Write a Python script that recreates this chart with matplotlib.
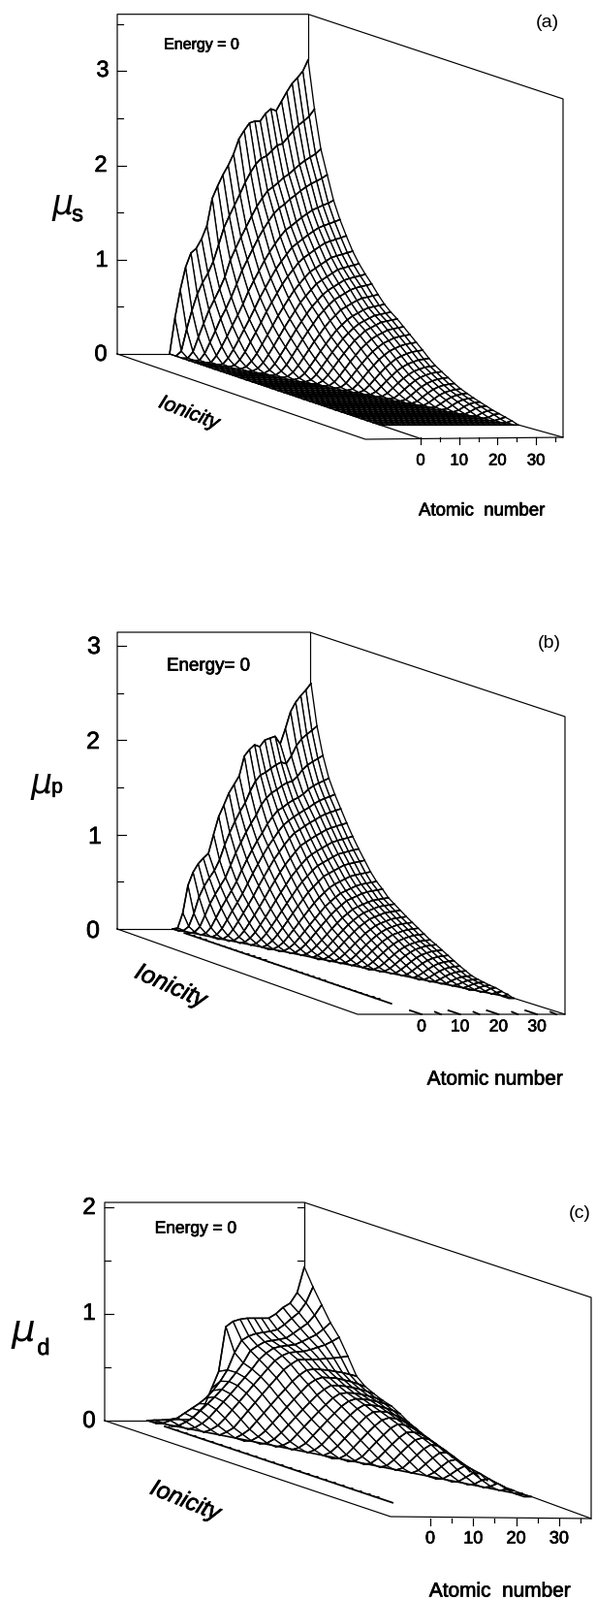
import numpy as np
import matplotlib
matplotlib.use("Agg")
import matplotlib.pyplot as plt
import matplotlib.patheffects as pe
from matplotlib.collections import PolyCollection, LineCollection

plt.rcParams['font.family'] = ['Liberation Sans', 'DejaVu Sans']

# values: mu along the back ridge (ionicity 0, one per
# atomic number line) and mu along the right edge (one per ionicity line)
ridge_s = [0, .38, .68, .92, 1.07, 1.12, 1.22, 1.36, 1.65, 1.78, 1.90, 2.0, 2.12, 2.28,
           2.37, 2.45, 2.47, 2.47, 2.55, 2.6, 2.58, 2.68, 2.78, 2.87, 2.93, 3.0, 3.12]
edge_s = [3.12, 2.62, 2.22, 1.97, 1.72, 1.54, 1.39, 1.25, 1.14, 1.05, .97, .88, .80, .74,
          .69, .63, .57, .51, .45, .385, .33, .29, .25, .21, .175, .15, .125, .105, .085,
          .065, .05, .035, .02, .01]
ridge_p = [0, .01, .17, .46, .6, .69, .75, .80, 1.0, 1.19, 1.31, 1.44, 1.53, 1.62, 1.83,
           1.9, 1.95, 1.93, 2.0, 2.02, 2.04, 1.96, 2.12, 2.3, 2.4, 2.47, 2.53, 2.6]
edge_p = [2.6, 2.17, 1.88, 1.66, 1.51, 1.38, 1.25, 1.13, 1.02, .92, .82, .74, .68, .61,
          .565, .52, .475, .435, .395, .355, .315, .285, .25, .215, .18, .145, .115, .085,
          .07, .06, .05, .045, .03, .02, .01]
ridge_d = [0, .005, .005, .01, .01, .01, .01, .07, .14, .3, .46, .88, .93, .95, .96, .96,
           .96, .96, 1.0, 1.06, 1.1, 1.2, 1.44]
edge_d = [1.44, 1.28, 1.14, 1.0, .89, .74, .58, .51, .47, .435, .41, .365, .31, .27, .225,
          .19, .15, .12, .085, .04, .02, .012, .008, .005, .003, .002, 0]
# panel (c) is a dome: mu at the top of each ionicity line, well above the right edge
mid_d = [.95, .83, .8, .78, .75, .71, .65, .6, .55, .51, .48, .45, .42, .385, .35, .31,
         .28, .24, .2, .16, .12, .09, .06, .04, .02, .01, 0]

# smooth shape of an ionicity line away from the ridge, as a fraction of its value on
# the right edge, at these fractions of the way along the line
row_u = [0, .05, .11, .2, .3, .45, .6, .8, 1]
shape_s = [0, .03, .1, .25, .42, .65, .82, .95, 1]
shape_p = [0, .03, .09, .23, .4, .64, .82, .95, 1]
# same for the dome, as a fraction of the top up to u=.6, then towards the edge value
rise_u = [0, .1, .2, .35, .5, .6]
rise_v = [0, .1, .3, .6, .88, 1]
fall_u = [.6, .75, .9, 1]
fall_v = [0, .12, .55, 1]

z_major = [0, 10, 20, 30]
z_minor = [5, 15, 25, 35]
z_last = 36

# where each panel sits on the page (pixels)
panels = [
    dict(ridge=ridge_s, edge=edge_s, shape=shape_s, mid=None, t_end=.84, full_floor=True, stubs=False,
         x0=175, y0=365, sz=3.97, su=97.2, ex=258, ey=87, left=121, right=318, top=14.7,
         front_left=(377, 453), corner=(581, 102, 451), front_x0=434, tick_style='down',
         ticks_y=[.5, 1, 1.5, 2, 2.5, 3, 3.5], long_y=[1, 2, 3], back_ticks=[],
         ylabels=[('3', 106, 73), ('2', 104, 171), ('1', 105, 269), ('0', 104, 366)], ysize=17,
         mu=(65, 211, 25), sub=('s', 80, 222, 17), energy=('Energy = 0', 208, 46, 11.5),
         tag=('(a)', 565, 24), ion=(195, 426, -21, 15), atom=('Atomic  number', 497, 527, 13.4),
         xlab_y=475, xlab_size=12),
    dict(ridge=ridge_p, edge=edge_p, shape=shape_p, mid=None, t_end=.81, full_floor=False, stubs=True,
         x0=178, y0=958, sz=3.97, su=97.4, ex=258, ey=88, left=121, right=320, top=652,
         front_left=(369, 1046), corner=(583, 739, 1046), front_x0=435, tick_style='slant',
         ticks_y=[.5, 1, 1.5, 2, 2.5, 3], long_y=[1, 2, 3], back_ticks=[],
         ylabels=[('3', 97, 667), ('2', 96, 765), ('1', 98, 863), ('0', 96, 960)], ysize=18,
         mu=(43, 808, 25), sub=('p', 59, 812, 15), energy=('Energy= 0', 215, 687, 13.5),
         tag=('(b)', 567, 664), ion=(176, 1017, -24, 18), atom=('Atomic number', 511, 1113, 15),
         xlab_y=1059, xlab_size=12.5),
    dict(ridge=ridge_d, edge=edge_d, shape=None, mid=mid_d, t_end=.79, full_floor=False, stubs=True,
         x0=152, y0=1465, sz=4.5, su=110, ex=296, ey=99, left=108, right=314, top=1240,
         front_left=(403, 1564), corner=(610, 1338, 1566), front_x0=444, tick_style='down',
         ticks_y=[.5, 1, 1.5, 2], long_y=[1, 2], back_ticks=[1.5, 2],
         ylabels=[('2', 92, 1246), ('1', 92, 1355), ('0', 92, 1466)], ysize=17.5,
         mu=(24, 1372, 28), sub=('d', 45, 1391, 17), energy=('Energy = 0', 202, 1267, 12.5),
         tag=('(c)', 598, 1252), ion=(191, 1548, -22, 17.5), atom=('Atomic  number', 516, 1641, 15),
         xlab_y=1587, xlab_size=13),
]


def project(p, z, ion, mu):
    return p['x0'] + p['sz'] * z + p['ex'] * ion, p['y0'] + p['ey'] * ion - p['su'] * mu


def make_surface(p):
    # The interior of the mesh is not read point by point: each ionicity line is a blend
    # of the read ridge and the read smooth shape, squeezed onto the part of the line
    # above the floor and scaled to the values read on the right edge (and top, for c).
    ridge = np.array(p['ridge'], dtype=float)
    edge = np.array(p['edge'], dtype=float)
    z = np.linspace(0, z_last, len(ridge))
    t = np.linspace(0, p['t_end'], len(edge))
    start = z_last * t / p['t_end']
    mu = np.zeros((len(t), len(z)))
    for i in range(len(t) - 1):
        u = np.clip((z - start[i]) / (z_last - start[i]), 0, 1)
        from_ridge = edge[i] * np.interp(u * z_last, z, ridge) / ridge[-1]
        if p['mid'] is not None:
            top = p['mid'][i]
            smooth = np.where(u < .6, top * np.interp(u, rise_u, rise_v),
                              top + (edge[i] - top) * np.interp(u, fall_u, fall_v))
            w = np.exp(-i / 1.2)
        else:
            smooth = edge[i] * np.interp(u, row_u, p['shape'])
            w = np.exp(-i / 2.5)
        mu[i] = w * from_ridge + (1 - w) * smooth
    return z, t, start, mu


def draw_surface(ax, p):
    z, t, start, mu = make_surface(p)
    zz = np.tile(z, (len(t), 1))
    tt = np.tile(t[:, None], (1, len(z)))
    x, y = project(p, zz, tt, mu)
    # painter's order: back ionicity lines first, high atomic number first
    for i in range(len(t) - 1):
        quads = []
        for j in range(len(z) - 2, -1, -1):
            if not p['full_floor'] and z[j + 1] < start[i + 1]:
                continue
            quads.append([(x[i, j], y[i, j]), (x[i, j + 1], y[i, j + 1]),
                          (x[i + 1, j + 1], y[i + 1, j + 1]), (x[i + 1, j], y[i + 1, j])])
        if quads:
            ax.add_collection(PolyCollection(quads, facecolor='white', edgecolor='black', linewidth=.95))
        keep = z >= start[i] - (z[1] - z[0]) if not p['full_floor'] else z >= -1
        ax.plot(x[i][keep], y[i][keep], color='black', lw=1.15, solid_joinstyle='round')
    if p['full_floor']:
        ax.plot(x[-1], y[-1], color='black', lw=.9)
    if p['stubs']:
        # lower edge of the mesh, where the lines reach the floor
        xs, ys = project(p, start, t, 0 * t)
        ax.plot(xs, ys, color='black', lw=1.2)
        # the collapsed lines left on the floor at the low atomic number end
        xa, ya = project(p, 0 * t, t, 0 * t)
        ax.plot(xa[2:], ya[2:], color='black', lw=1.3)
        xb, yb = project(p, 0 * t + 1.2, t, 0 * t)
        ax.add_collection(LineCollection([[(xa[i], ya[i]), (xb[i], yb[i])] for i in range(2, len(t))],
                                         colors='black', linewidths=.7))
        # runs on a little past the last mesh line, as the sawtooth does
        xc, yc = project(p, 0, p['t_end'] + .065, 0)
        ax.plot([xa[-1], xc], [ya[-1], yc], color='black', lw=1.3)
    else:
        xa, ya = project(p, 0, p['t_end'], 0)
        xc, yc = project(p, 0, 1, 0)
        ax.plot([xa, xc], [ya, yc], color='black', lw=.9)
        xa, ya = project(p, 0, 0, 0)
        xc, yc = project(p, 0, p['t_end'], 0)
        ax.plot([xa, xc], [ya, yc], color='black', lw=.9)


def draw_frame(ax, p):
    cx, cy_top, cy_bot = p['corner']
    fx, fy = p['front_left']
    peak = p['y0'] - p['su'] * p['ridge'][-1]
    kw = dict(color='black', lw=.85)
    ax.plot([p['left'], p['left'], p['right'], cx, cx, fx, p['left']],
            [p['y0'], p['top'], p['top'], cy_top, cy_bot, fy, p['y0']], **kw)
    ax.plot([p['right'], p['right']], [p['top'], peak], **kw)
    ax.plot([p['left'], p['x0']], [p['y0'], p['y0']], **kw)
    # floor from the end of the mesh to the right corner
    xe, ye = project(p, z_last, p['t_end'], 0)
    ax.plot([xe, cx], [ye, cy_bot], **kw)
    for v in p['ticks_y']:
        yv = p['y0'] - p['su'] * v
        ax.plot([p['left'], p['left'] + (9 if v in p['long_y'] else 6)], [yv, yv], **kw)
    for v in p['back_ticks']:
        yv = p['y0'] - p['su'] * v
        ax.plot([p['right'], p['right'] - 7], [yv, yv], **kw)
    # atomic number axis
    for zv in z_major + z_minor:
        xv = p['front_x0'] + p['sz'] * zv if p['sz'] < 4.4 else p['front_x0'] + 4.43 * zv
        big = zv in z_major
        if p['tick_style'] == 'down':
            ax.plot([xv, xv], [cy_bot, cy_bot + (7 if big else 3.5)], **kw)
        else:
            ax.plot([xv - (12 if big else 6), xv], [cy_bot - (4 if big else 2.5), cy_bot], color='black', lw=1.3)
    for zv in z_major:
        xv = p['front_x0'] + p['sz'] * zv if p['sz'] < 4.4 else p['front_x0'] + 4.43 * zv
        ax.text(xv, p['xlab_y'], str(zv), fontsize=p['xlab_size'], ha='center', va='center', path_effects=heavy)


heavy = [pe.withStroke(linewidth=.5, foreground='black')]


def draw_text(ax, p):
    for s, x, y in p['ylabels']:
        ax.text(x, y, s, fontsize=p['ysize'], ha='center', va='center', path_effects=heavy)
    x, y, size = p['mu']
    ax.text(x, y, 'μ', fontsize=size, style='italic', ha='center', va='center', family='DejaVu Sans')
    s, x, y, size = p['sub']
    ax.text(x, y, s, fontsize=size, ha='center', va='center', path_effects=heavy)
    s, x, y, size = p['energy']
    ax.text(x, y, s, fontsize=size, ha='center', va='center', path_effects=heavy)
    s, x, y = p['tag']
    ax.text(x, y, s, fontsize=14, ha='center', va='center')
    x, y, rot, size = p['ion']
    ax.text(x, y, 'Ionicity', fontsize=size, style='italic', rotation=rot, ha='center', va='center',
            rotation_mode='anchor', path_effects=heavy)
    s, x, y, size = p['atom']
    ax.text(x, y, s, fontsize=size, ha='center', va='center', path_effects=heavy)


fig = plt.figure(figsize=(6.15, 16.5), dpi=100)
ax = fig.add_axes([0, 0, 1, 1])
ax.set_xlim(0, 615)
ax.set_ylim(1650, 0)
ax.axis('off')
for p in panels:
    draw_frame(ax, p)
    draw_surface(ax, p)
    draw_text(ax, p)
fig.savefig('out.png', dpi=100)
